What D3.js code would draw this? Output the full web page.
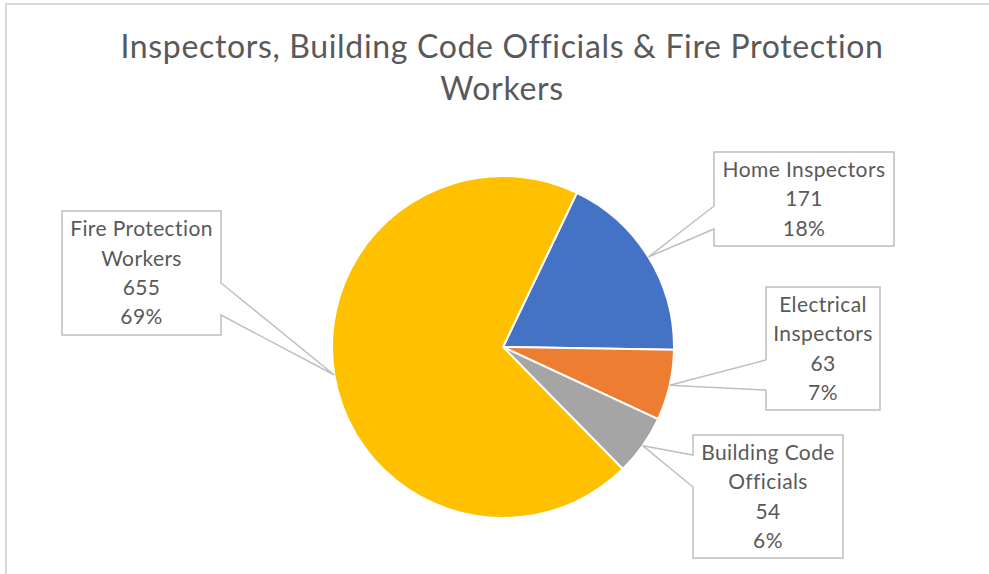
<!DOCTYPE html>
<html><head><meta charset="utf-8">
<script src="https://cdn.jsdelivr.net/npm/d3@7"></script>
<style>html,body{margin:0;padding:0;background:#fff;}svg{display:block;}</style>
</head><body>
<svg id="chart" width="989" height="574"></svg>
<script>
const titleLines = ["Inspectors, Building Code Officials & Fire Protection", "Workers"];
const categories = ["Home Inspectors", "Electrical Inspectors", "Building Code Officials", "Fire Protection Workers"];
const values = [171, 63, 54, 655];
const percentLabels = ["18%", "7%", "6%", "69%"];
const labelLines = [["Home Inspectors"], ["Electrical", "Inspectors"], ["Building Code", "Officials"], ["Fire Protection", "Workers"]];
const colors = ["#4472C4", "#ED7D31", "#A5A5A5", "#FFC000"];

// layout
const cx = 503, cy = 347, R = 171;
const startDeg = 25.6;
const boxes = [
  {x: 714, y: 152, w: 180, h: 94, side: "left", a: 206, b: 229},
  {x: 766, y: 287, w: 114, h: 123, side: "left", a: 360, b: 390},
  {x: 693, y: 435, w: 150, h: 123, side: "left", a: 455, b: 487},
  {x: 62, y: 211, w: 159, h: 124, side: "right", a: 283, b: 315}
];

const svg = d3.select("#chart");
const textColor = "#595959";
const font = "Lato, 'Open Sans', sans-serif";

// chart border
svg.append("path").attr("d", "M6,574 V4 H989").attr("fill", "none").attr("stroke", "#d9d9d9").attr("stroke-width", 2);

// title
svg.append("g").selectAll("text").data(titleLines).join("text")
  .attr("x", 502).attr("y", (d, i) => 58 + i * 42)
  .attr("text-anchor", "middle").attr("font-family", font).attr("font-size", 32)
  .attr("letter-spacing", 0.66)
  .attr("fill", textColor).text(d => d);

const pie = d3.pie().sort(null).value(d => d)
  .startAngle(startDeg * Math.PI / 180).endAngle(startDeg * Math.PI / 180 + 2 * Math.PI);
const arcs = pie(values);
const arc = d3.arc().innerRadius(0).outerRadius(R);

const g = svg.append("g").attr("transform", `translate(${cx},${cy})`);
g.selectAll("path").data(arcs).join("path")
  .attr("d", arc).attr("fill", (d, i) => colors[i])
  .attr("stroke", "#fff").attr("stroke-width", 2).attr("stroke-linejoin", "round");

// callouts
const lg = svg.append("g");
arcs.forEach((d, i) => {
  const mid = (d.startAngle + d.endAngle) / 2;
  const tx = cx + R * Math.sin(mid), ty = cy - R * Math.cos(mid);
  const b = boxes[i];
  let p;
  if (b.side === "left") {
    p = `M${b.x},${b.y} H${b.x + b.w} V${b.y + b.h} H${b.x} V${b.b} L${tx},${ty} L${b.x},${b.a} Z`;
  } else {
    const rx = b.x + b.w;
    p = `M${b.x},${b.y} H${rx} V${b.a} L${tx},${ty} L${rx},${b.b} V${b.y + b.h} H${b.x} Z`;
  }
  lg.append("path").attr("d", p).attr("fill", "#fff").attr("stroke", "#bfbfbf").attr("stroke-width", 1.5).attr("stroke-linejoin", "miter");
  const lines = labelLines[i].concat([String(values[i]), percentLabels[i]]);
  const lh = 29.3;
  const top = b.y + b.h / 2 - (lines.length - 1) * lh / 2;
  lg.append("g").selectAll("text").data(lines).join("text")
    .attr("x", b.x + b.w / 2).attr("y", (t, j) => top + j * lh)
    .attr("dy", "0.35em").attr("text-anchor", "middle")
    .attr("font-family", font).attr("font-size", 21).attr("letter-spacing", 0.4)
    .attr("fill", textColor).text(t => t);
});
</script>
</body></html>
